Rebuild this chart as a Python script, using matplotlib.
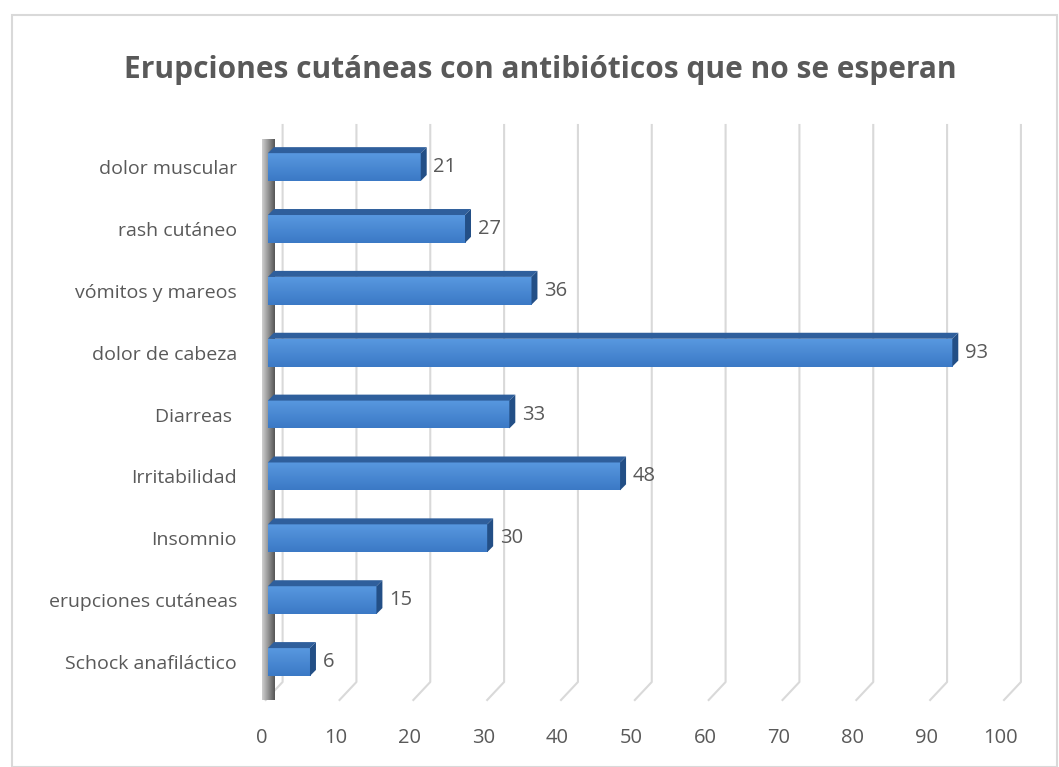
import numpy as np
import matplotlib
matplotlib.use("Agg")
from matplotlib import pyplot as plt
from matplotlib.patches import Polygon, Rectangle

plt.rcParams['font.family'] = ['Open Sans', 'DejaVu Sans']

categories = ["Schock anafiláctico", "erupciones cutáneas", "Insomnio", "Irritabilidad",
              "Diarreas ", "dolor de cabeza", "vómitos y mareos", "rash cutáneo",
              "dolor muscular"]
values = [6, 15, 30, 48, 33, 93, 36, 27, 21]
xticks = [0, 10, 20, 30, 40, 50, 60, 70, 80, 90, 100]
title = "Erupciones cutáneas con antibióticos que no se esperan"

text_col = "#595959"
grid_col = "#d9d9d9"

fig = plt.figure(figsize=(10.59, 7.67), dpi=100)
W, H = 1059, 767

# chart border
fig.patches.append(Rectangle((12 / W, 0.0), (W - 14) / W, (H - 15) / H,
                             transform=fig.transFigure, fill=False,
                             edgecolor="#d9d9d9", lw=1.5))

ax_l, ax_r, ax_t, ax_b = 262, 1004, 125, 700
ax = fig.add_axes([ax_l / W, 1 - ax_b / H, (ax_r - ax_l) / W, (ax_b - ax_t) / H])
for s in ax.spines.values():
    s.set_visible(False)

px_x = (ax_r - ax_l) / 100.0          # pixels per x unit
px_y = (ax_b - ax_t) / (8.68 + 0.614)  # pixels per y unit
back_dx = 17 / px_x
back_dy = 18 / px_y


def gradient_poly(ax, verts, c1, c2, horizontal=False, z=3):
    verts = np.array(verts)
    poly = Polygon(verts, closed=True, facecolor="none", edgecolor="none")
    ax.add_patch(poly)
    x0, y0 = verts.min(axis=0)
    x1, y1 = verts.max(axis=0)
    t = np.linspace(0, 1, 64)
    c1 = np.array(matplotlib.colors.to_rgb(c1))
    c2 = np.array(matplotlib.colors.to_rgb(c2))
    cols = c1[None, :] * (1 - t[:, None]) + c2[None, :] * t[:, None]
    img = cols[None, :, :] if horizontal else cols[:, None, :]
    im = ax.imshow(img, extent=[x0, x1, y0, y1], origin="lower" if horizontal else "upper",
                   aspect="auto", zorder=z, clip_on=False, interpolation="bilinear")
    im.set_clip_path(poly)
    return im


# back-wall gridlines with perspective feet
y_floor = -0.614
for v in xticks:
    ax.plot([v + back_dx, v + back_dx, v], [8.68, y_floor + back_dy, y_floor],
            color=grid_col, lw=1.5, zorder=1, clip_on=False)

# left wall
wall_w = 1.7
wall = [(-0.5, y_floor), (-0.5 + wall_w, y_floor + back_dy * 0.6),
        (-0.5 + wall_w, 8.45), (-0.5, 8.15)]
gradient_poly(ax, wall, "#d0d0d0", "#555555", horizontal=True, z=2)

# bars
half = 0.225
dx = 6 / px_x
dy = 6 / px_y
for i, v in enumerate(values):
    y0, y1 = i - half, i + half
    x0 = 0.3
    front = [(x0, y0), (v, y0), (v, y1), (x0, y1)]
    gradient_poly(ax, front, "#5898e0", "#3b79c5", z=4)
    top = [(x0, y1), (v, y1), (v + dx, y1 + dy), (x0 + dx, y1 + dy)]
    ax.add_patch(Polygon(top, closed=True, facecolor="#2f5f9c", edgecolor="none", zorder=4))
    side = [(v, y0), (v + dx, y0 + dy), (v + dx, y1 + dy), (v, y1)]
    ax.add_patch(Polygon(side, closed=True, facecolor="#234f86", edgecolor="none", zorder=4))
    ax.text(v + dx + 0.9, i, str(v), va="center", ha="left", fontsize=14.5,
            color=text_col, zorder=5)

ax.set_xlim(0, 100)
ax.set_ylim(-0.614, 8.68)
ax.set_yticks(range(len(categories)))
ax.set_yticklabels(categories, fontsize=14, color=text_col)
ax.set_xticks([v - 0.5 for v in xticks])
ax.set_xticklabels([str(v) for v in xticks], fontsize=14.5, color=text_col)
ax.tick_params(axis="y", length=0, pad=18)
ax.tick_params(axis="x", length=0, pad=20)

fig.text(540 / W, 1 - 70 / H, title, ha="center", va="center", fontsize=21.5,
         fontweight="bold", color=text_col)

fig.savefig("out.png", dpi=100)
